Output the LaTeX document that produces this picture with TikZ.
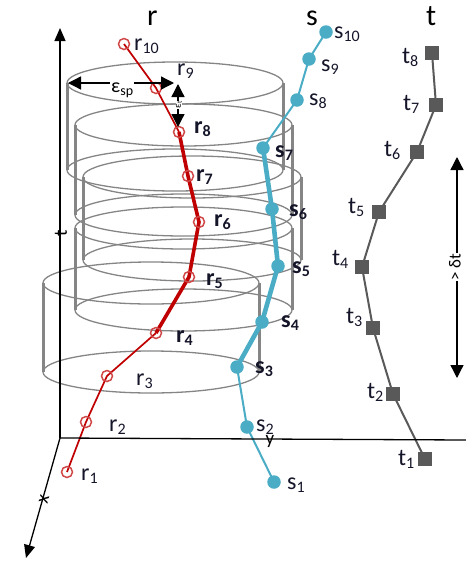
\documentclass[tikz,border=0pt]{standalone}
\usepackage{fontspec}
\setmainfont{Carlito}
\usetikzlibrary{arrows.meta}
\pgfdeclarelayer{cyl}
\pgfdeclarelayer{lines}
\pgfsetlayers{cyl,lines,main}
\definecolor{rline}{HTML}{C00000}
\definecolor{rcirc}{HTML}{D04848}
\definecolor{tealc}{HTML}{4BACC6}
\definecolor{tgray}{HTML}{595959}
\definecolor{cgray}{HTML}{858585}
\definecolor{txt}{HTML}{15152A}
\newcommand\mysub[1]{\raisebox{-3pt}{\fontsize{16}{16}\selectfont #1}}
\newcommand\cylinder[4]{%
  \draw[cylell] (#1,#2) ellipse [x radius=#4pt, y radius=21pt];
  \draw[cylell] (#1,#3) ellipse [x radius=#4pt, y radius=21pt];
  \draw[cylside] ({#1-#4},#2) -- ({#1-#4},#3);
  \draw[cylside] ({#1+#4},#2) -- ({#1+#4},#3);
}
\begin{document}
\begin{tikzpicture}[x=1pt,y=-1pt,
  cylell/.style={draw=cgray, line width=1.3pt},
  cylside/.style={draw=cgray, line width=3pt},
  lbl/.style={font=\fontsize{24}{24}\selectfont, text=txt, inner sep=0pt, anchor=base west},
  blbl/.style={lbl, font=\fontsize{24}{24}\selectfont\bfseries},
  ttl/.style={font=\fontsize{30}{30}\selectfont, inner sep=0pt, anchor=base west},
  rpt/.style={circle, draw=rcirc, line width=1.5pt, minimum size=11pt, inner sep=0pt},
  spt/.style={circle, fill=tealc, minimum size=13.5pt, inner sep=0pt},
  tpt/.style={rectangle, fill=tgray, minimum size=14pt, inner sep=0pt},
  rthin/.style={draw=rline, line width=1.7pt},
  rthick/.style={draw=rline, line width=3.6pt},
  sthin/.style={draw=tealc, line width=2pt},
  sthick/.style={draw=tealc, line width=4.6pt},
  tln/.style={draw=tgray, line width=2pt},
  axis/.style={draw=black, line width=1.3pt},
  bigtip/.style={-{Triangle[length=13pt,width=11pt]}},
  dimarrow/.style={draw=black, line width=1.3pt, {Triangle[length=13pt,width=13pt]}-{Triangle[length=13pt,width=13pt]}}
]
\useasboundingbox (0,0) rectangle (466,563);

% cylinders
\begin{pgfonlayer}{cyl}
\cylinder{175}{83}{170}{108}
\cylinder{183.5}{125}{215}{108.5}
\cylinder{192}{177}{260}{109}
\cylinder{183.5}{228}{310}{108.5}
\cylinder{151}{283}{372}{108}
\end{pgfonlayer}

% axes
\coordinate (O) at (60,438);
\coordinate (tEnd) at (60,28);
\coordinate (xEnd) at (26,558);
\coordinate (yEnd) at (466,440);
\draw[axis,bigtip] (O) -- (tEnd);
\draw[axis,bigtip] (O) -- (xEnd);
\draw[axis] (O) -- (yEnd);
\node[font=\fontsize{19}{19}\selectfont, rotate=90, inner sep=0pt] (tlab) at (61,233) {t};
\node[font=\fontsize{19}{19}\selectfont, rotate=75, inner sep=0pt] (xlab) at (44,499) {x};
\node[font=\fontsize{19}{19}\selectfont, inner sep=0pt, anchor=base] (ylab) at (270,444) {y};

% titles
\node[ttl] (rt) at (147,25) {r};
\node[ttl] (st) at (306,25) {s};
\node[ttl] (tt) at (426,25) {t};

% r points
\node[rpt] (r10) at (124,44) {};
\node[rpt] (r9) at (156,88) {};
\node[rpt] (r8) at (179,132) {};
\node[rpt] (r7) at (188,176) {};
\node[rpt] (r6) at (199,222) {};
\node[rpt] (r5) at (189,277) {};
\node[rpt] (r4) at (156,333) {};
\node[rpt] (r3) at (107,376) {};
\node[rpt] (r2) at (86,422) {};
\node[rpt] (r1) at (67,472) {};
\begin{pgfonlayer}{lines}
\draw[rthin] (r10.center) -- (r9.center) -- (r8.center);
\draw[rthick, line join=round] (r8.center) -- (r7.center) -- (r6.center) -- (r5.center) -- (r4.center);
\draw[rthin] (r4.center) -- (r3.center) -- (r2.center) -- (r1.center);
\end{pgfonlayer}
\node[lbl] (lr10) at (134,50) {r\mysub{10}};
\node[lbl] (lr9) at (177,75) {r\mysub{9}};
\node[blbl] (lr8) at (194,133) {r\mysub{8}};
\node[blbl] (lr7) at (196,181) {r\mysub{7}};
\node[blbl] (lr6) at (214,226) {r\mysub{6}};
\node[blbl] (lr5) at (206,285) {r\mysub{5}};
\node[blbl] (lr4) at (176,342) {r\mysub{4}};
\node[lbl] (lr3) at (136,385) {r\mysub{3}};
\node[lbl] (lr2) at (109,431) {r\mysub{2}};
\node[lbl] (lr1) at (81,480) {r\mysub{1}};

% s points
\node[spt] (s10) at (326,32) {};
\node[spt] (s9) at (309,59) {};
\node[spt] (s8) at (297,100) {};
\node[spt] (s7) at (263,148) {};
\node[spt] (s6) at (272,209) {};
\node[spt] (s5) at (278,266) {};
\node[spt] (s4) at (262,322) {};
\node[spt] (s3) at (237,367) {};
\node[spt] (s2) at (247,427) {};
\node[spt] (s1) at (274,482) {};
\begin{pgfonlayer}{lines}
\draw[sthin] (s10.center) -- (s9.center) -- (s8.center) -- (s7.center);
\draw[sthick, line join=round] (s7.center) -- (s6.center) -- (s5.center) -- (s4.center) -- (s3.center);
\draw[sthin] (s3.center) -- (s2.center) -- (s1.center);
\end{pgfonlayer}
\node[lbl] (ls10) at (334,38) {s\mysub{10}};
\node[lbl] (ls9) at (321,71) {s\mysub{9}};
\node[lbl] (ls8) at (309,105) {s\mysub{8}};
\node[blbl] (ls7) at (275,157) {s\mysub{7}};
\node[blbl] (ls6) at (289,216) {s\mysub{6}};
\node[blbl] (ls5) at (292,273) {s\mysub{5}};
\node[blbl] (ls4) at (281,327) {s\mysub{4}};
\node[blbl] (ls3) at (255,373) {s\mysub{3}};
\node[lbl] (ls2) at (256,431) {s\mysub{2}};
\node[lbl] (ls1) at (287,489) {s\mysub{1}};

% t points
\node[tpt] (t8) at (432,53) {};
\node[tpt] (t7) at (436,105) {};
\node[tpt] (t6) at (417,152) {};
\node[tpt] (t5) at (379,212) {};
\node[tpt] (t4) at (362,267) {};
\node[tpt] (t3) at (373,328) {};
\node[tpt] (t2) at (393,394) {};
\node[tpt] (t1) at (425,459) {};
\begin{pgfonlayer}{lines}
\draw[tln, line join=round] (t8.center) -- (t7.center) -- (t6.center) -- (t5.center) -- (t4.center) -- (t3.center) -- (t2.center) -- (t1.center);
\end{pgfonlayer}
\node[lbl] (lt8) at (402,63) {t\mysub{8}};
\node[lbl] (lt7) at (403,110) {t\mysub{7}};
\node[lbl] (lt6) at (384,156) {t\mysub{6}};
\node[lbl] (lt5) at (348,213) {t\mysub{5}};
\node[lbl] (lt4) at (332,265) {t\mysub{4}};
\node[lbl] (lt3) at (346,323) {t\mysub{3}};
\node[lbl] (lt2) at (367,398) {t\mysub{2}};
\node[lbl] (lt1) at (398,465) {t\mysub{1}};

% epsilon_sp and epsilon_t dimension arrows
\coordinate (eL) at (68,83);
\coordinate (eR) at (174,83);
\coordinate (vT) at (178,84);
\coordinate (vB) at (178,127);
\draw[dimarrow] (eL) -- (eR);
\draw[dimarrow] (vT) -- (vB);
\node[fill=white, inner sep=1pt, anchor=base west, font=\fontsize{20}{20}\selectfont] (esp) at (110,92) {ε\raisebox{-3pt}{\fontsize{14}{14}\selectfont sp}};
\node[fill=white, inner sep=0.5pt, rotate=90, font=\fontsize{10}{10}\selectfont] (et) at (179,105) {ε\raisebox{-1pt}{\fontsize{7}{7}\selectfont t}};

% delta t arrow on the right
\coordinate (dT) at (457,157);
\coordinate (dB) at (457,378);
\draw[dimarrow] (dT) -- (dB);
\node[fill=white, inner sep=0.5pt, rotate=90, font=\fontsize{17}{17}\selectfont] (dtl) at (455,267) {> δt};
\end{tikzpicture}
\end{document}
